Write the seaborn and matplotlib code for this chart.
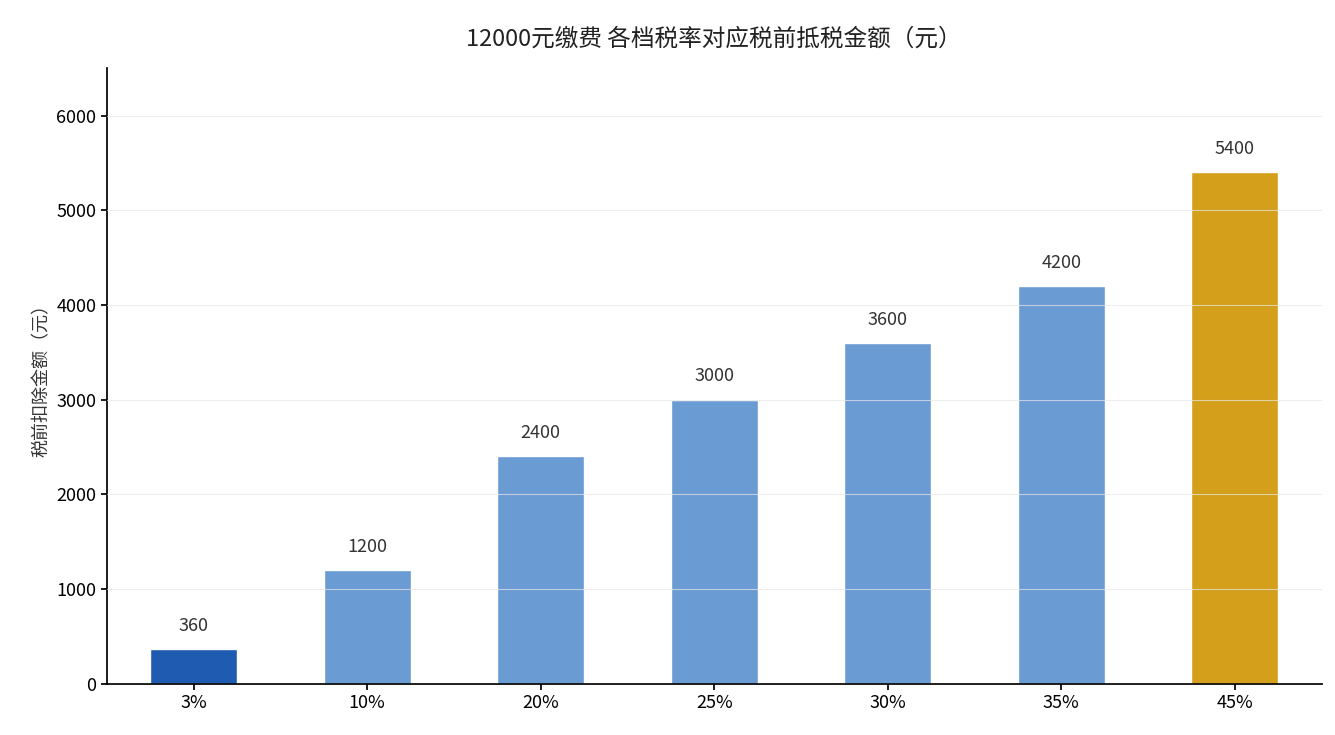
import matplotlib
matplotlib.use("Agg")
import matplotlib.pyplot as plt
import seaborn as sns
import pandas as pd

rates = ["3%", "10%", "20%", "25%", "30%", "35%", "45%"]
amounts = [360, 1200, 2400, 3000, 3600, 4200, 5400]
colors = ["#1f5bb0", "#6b9bd3", "#6b9bd3", "#6b9bd3", "#6b9bd3", "#6b9bd3", "#d4a01c"]

sns.set_theme(style="white")
plt.rcParams['font.family'] = ['Noto Sans CJK SC', 'DejaVu Sans']

df = pd.DataFrame({"税率": rates, "金额": amounts})

fig, ax = plt.subplots(figsize=(13.35, 7.35), dpi=100)
sns.barplot(data=df, x="税率", y="金额", hue="税率", palette=colors, legend=False,
            width=0.5, saturation=1, ax=ax)

for i, v in enumerate(amounts):
    ax.text(i, v + 150, str(v), ha="center", va="bottom", fontsize=13, color="#333333")

ax.set_ylim(0, 6500)
ax.set_yticks(range(0, 6001, 1000))
ax.grid(axis="y", color="#e6e6e6", linewidth=0.8, alpha=0.7, zorder=3)
ax.set_axisbelow(False)
ax.set_xlabel("")
ax.set_ylabel("税前扣除金额（元）", fontsize=13, color="#333333")
ax.set_title("12000元缴费 各档税率对应税前抵税金额（元）", fontsize=17, color="#222222", pad=16)
ax.tick_params(axis="both", labelsize=13, colors="black", left=True, bottom=True, length=4)
sns.despine(ax=ax)
for s in ["left", "bottom"]:
    ax.spines[s].set_color("black")

fig.subplots_adjust(left=0.08, right=0.99, top=0.907, bottom=0.07)
fig.savefig("out.png", dpi=100)
